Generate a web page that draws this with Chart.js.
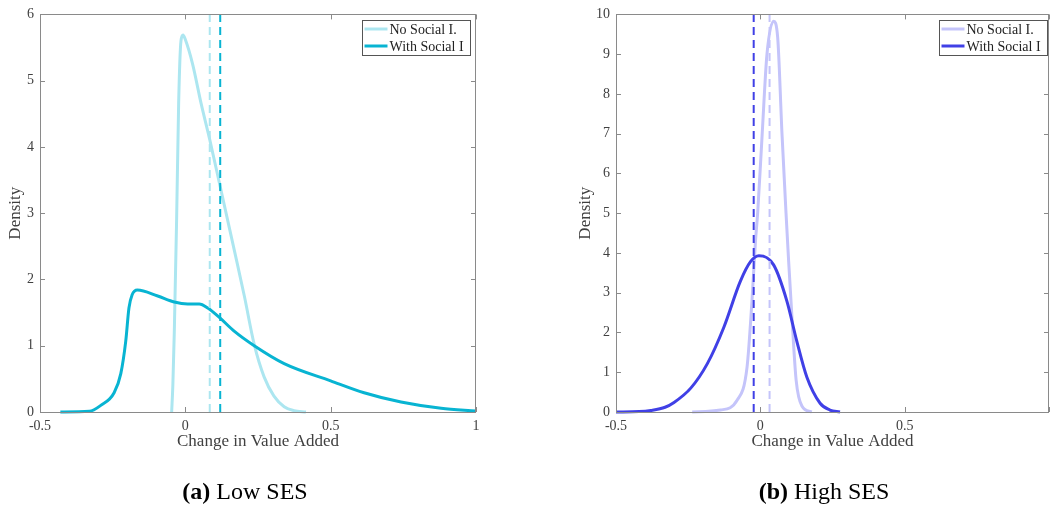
<!DOCTYPE html>
<html>
<head>
<meta charset="utf-8">
<script src="https://cdn.jsdelivr.net/npm/chart.js@4.4.1/dist/chart.umd.min.js"></script>
<style>
  body { margin: 0; background: #fff; width: 1050px; height: 512px; overflow: hidden; position: relative; font-family: "Liberation Serif", serif; }
  .panel { position: absolute; top: 0; }
  .caption { position: absolute; top: 478px; width: 300px; text-align: center; font-size: 24px; color: #000; }
</style>
</head>
<body>
<div class="panel" style="left:0"><canvas id="lowSES" width="525" height="512"></canvas></div>
<div class="panel" style="left:540px"><canvas id="highSES" width="510" height="512"></canvas></div>
<div class="caption" style="left:95px"><b>(a)</b> Low SES</div>
<div class="caption" style="left:674px"><b>(b)</b> High SES</div>
<script>
// values
var seriesNames = ["No Social I.", "With Social I"];
var xTicks = [-0.5, 0, 0.5, 1];

var lowNoX = [-0.047, -0.043, -0.038, -0.03, -0.023, -0.015, -0.008, 0.0, 0.025, 0.054, 0.084, 0.12, 0.168, 0.203, 0.237, 0.271, 0.305, 0.34, 0.374, 0.415];
var lowNoY = [0, 0.4, 1.2, 2.9, 4.66, 5.6, 5.69, 5.62, 5.25, 4.66, 4.11, 3.4, 2.45, 1.75, 1.02, 0.53, 0.24, 0.08, 0.02, 0];
var lowWithX = [-0.43, -0.33, -0.291, -0.245, -0.222, -0.205, -0.194, -0.183, -0.165, -0.095, -0.038, 0.008, 0.048, 0.077, 0.119, 0.168, 0.237, 0.34, 0.5, 0.615, 0.742, 0.88, 1.0];
var lowWithY = [0, 0.01, 0.1, 0.29, 0.58, 1.07, 1.57, 1.77, 1.84, 1.75, 1.66, 1.63, 1.63, 1.57, 1.42, 1.22, 1.0, 0.73, 0.47, 0.29, 0.15, 0.055, 0.015];
var lowMeans = [0.084, 0.12];

var highNoX = [-0.236, -0.138, -0.08, -0.046, -0.029, -0.017, -0.009, 0.006, 0.023, 0.046, 0.06, 0.075, 0.089, 0.098, 0.109, 0.124, 0.144, 0.178];
var highNoY = [0, 0.05, 0.3, 1.13, 2.79, 4.28, 5.03, 6.94, 9.0, 9.83, 9.43, 7.0, 5.0, 3.8, 2.45, 0.8, 0.15, 0];
var highWithX = [-0.5, -0.42, -0.379, -0.33, -0.299, -0.241, -0.184, -0.127, -0.069, -0.034, -0.005, 0.046, 0.092, 0.126, 0.161, 0.207, 0.241, 0.276];
var highWithY = [0, 0.01, 0.04, 0.12, 0.24, 0.6, 1.21, 2.12, 3.29, 3.78, 3.93, 3.7, 2.79, 1.79, 0.88, 0.22, 0.05, 0];
var highMeans = [0.032, -0.023];

var fontFamily = "'Liberation Serif', serif";
var axisColor = '#8a8a8a';
var textColor = '#404040';

function toPoints(xs, ys) {
    return xs.map(function (x, i) { return { x: x, y: ys[i] }; });
}

function curve(label, xs, ys, color, order) {
    return {
        label: label, data: toPoints(xs, ys), borderColor: color, borderWidth: 3,
        cubicInterpolationMode: 'monotone', pointRadius: 0, clip: false, order: order, inLegend: true
    };
}

function meanLine(x, yMax, color) {
    return {
        label: 'mean', data: [{ x: x, y: 0 }, { x: x, y: yMax }], borderColor: color,
        borderWidth: 2, borderDash: [8, 5], pointRadius: 0, clip: false, order: 0, inLegend: false
    };
}

// MATLAB style box, inward ticks and legend
var boxPlugin = {
    id: 'matlabBox',
    afterDraw: function (chart) {
        var ctx = chart.ctx, a = chart.chartArea;
        var xs = chart.scales.x, ys = chart.scales.y;
        ctx.save();
        ctx.strokeStyle = axisColor;
        ctx.lineWidth = 1;
        ctx.beginPath();
        xs.ticks.forEach(function (t) {
            var px = Math.round(xs.getPixelForValue(t.value)) + 0.5;
            ctx.moveTo(px, a.bottom); ctx.lineTo(px, a.bottom - 5);
            ctx.moveTo(px, a.top); ctx.lineTo(px, a.top + 5);
        });
        ys.ticks.forEach(function (t) {
            var py = Math.round(ys.getPixelForValue(t.value)) + 0.5;
            ctx.moveTo(a.left, py); ctx.lineTo(a.left + 5, py);
            ctx.moveTo(a.right, py); ctx.lineTo(a.right - 5, py);
        });
        ctx.stroke();
        ctx.strokeRect(Math.round(a.left) + 0.5, Math.round(a.top) + 0.5, Math.round(a.right - a.left) - 1, Math.round(a.bottom - a.top));

        // legend
        var items = chart.data.datasets.filter(function (d) { return d.inLegend; });
        ctx.font = '14px ' + fontFamily;
        var tw = 0;
        items.forEach(function (d) { tw = Math.max(tw, ctx.measureText(d.label).width); });
        var off = chart.options.plugins.matlabBox.offset;
        var w = Math.round(tw + 34), h = 35;
        var bx = Math.round(a.right - off - w) + 0.5, by = Math.round(a.top + 6) + 0.5;
        ctx.fillStyle = '#fff';
        ctx.fillRect(bx, by, w, h);
        ctx.strokeStyle = '#555';
        ctx.strokeRect(bx, by, w, h);
        ctx.textBaseline = 'middle';
        ctx.fillStyle = '#222';
        items.forEach(function (d, i) {
            var ry = by + 8.5 + i * 17;
            ctx.strokeStyle = d.borderColor;
            ctx.lineWidth = 3;
            ctx.beginPath();
            ctx.moveTo(bx + 2, ry); ctx.lineTo(bx + 25, ry);
            ctx.stroke();
            ctx.fillText(d.label, bx + 27, ry + 1);
        });
        ctx.restore();
    }
};

function drawDensity(canvasId, datasets, yMax, yWidth, yTitlePad, padRight, legendOff, hideOne) {
    var ctx = document.getElementById(canvasId).getContext('2d');
    return new Chart(ctx, {
        type: 'line',
        data: { datasets: datasets },
        plugins: [boxPlugin],
        options: {
            responsive: false,
            animation: false,
            layout: { padding: { left: 0, right: padRight, top: 10, bottom: 55 } },
            plugins: {
                legend: { display: false },
                tooltip: { enabled: false },
                matlabBox: { offset: legendOff }
            },
            scales: {
                x: {
                    type: 'linear', min: -0.5, max: 1,
                    grid: { display: false, drawTicks: false }, border: { display: false },
                    afterBuildTicks: function (s) { s.ticks = xTicks.map(function (v) { return { value: v }; }); },
                    ticks: {
                        autoSkip: false, maxRotation: 0, padding: 6, color: textColor,
                        font: { family: fontFamily, size: 14 },
                        callback: function (v) { return (hideOne && v === 1) ? '' : String(v); }
                    },
                    title: { display: true, text: 'Change in Value Added', color: textColor, padding: 5, font: { family: fontFamily, size: 17 } },
                    afterFit: function (s) { s.height = 45; s.paddingRight = 0; }
                },
                y: {
                    min: 0, max: yMax,
                    grid: { display: false, drawTicks: false }, border: { display: false },
                    ticks: { stepSize: 1, padding: 6, color: textColor, font: { family: fontFamily, size: 14 } },
                    title: { display: true, text: 'Density', color: textColor, padding: { top: yTitlePad, bottom: 0 }, font: { family: fontFamily, size: 17 } },
                    afterFit: function (s) { s.width = yWidth; }
                }
            }
        }
    });
}

drawDensity('lowSES', [
    meanLine(lowMeans[0], 6, 'rgb(172,230,240)'),
    meanLine(lowMeans[1], 6, 'rgb(8,180,210)'),
    curve(seriesNames[0], lowNoX, lowNoY, 'rgb(172,230,240)', 2),
    curve(seriesNames[1], lowWithX, lowWithY, 'rgb(8,180,210)', 1)
], 6, 40, 5, 49, 6, false);

drawDensity('highSES', [
    meanLine(highMeans[0], 10, 'rgb(196,196,250)'),
    meanLine(highMeans[1], 10, 'rgb(64,64,230)'),
    curve(seriesNames[0], highNoX, highNoY, 'rgb(196,196,250)', 2),
    curve(seriesNames[1], highWithX, highWithY, 'rgb(64,64,230)', 1)
], 10, 76, 35, 1, 2, true);
</script>
</body>
</html>
